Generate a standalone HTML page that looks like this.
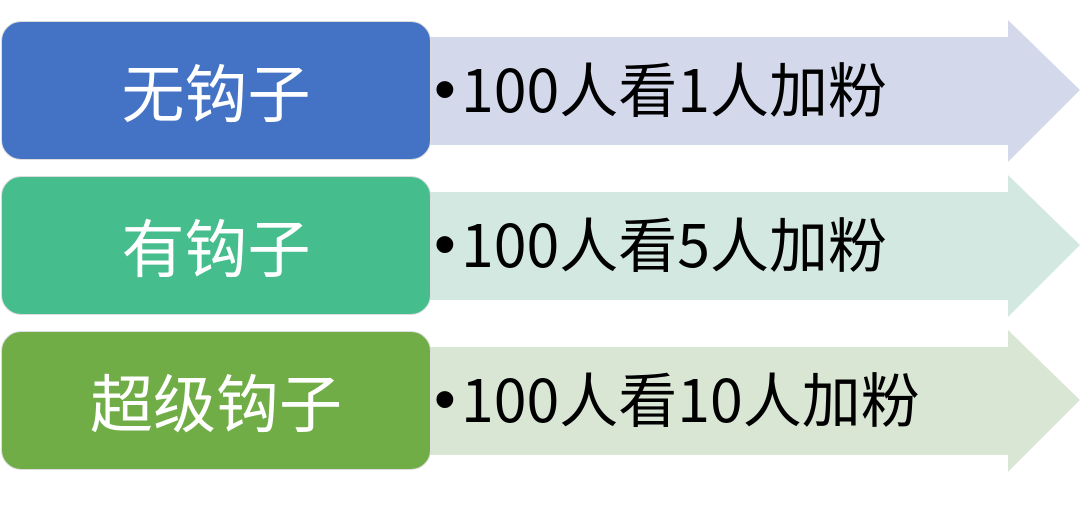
<!DOCTYPE html>
<html><head><meta charset="utf-8"><style>
body{margin:0;width:1080px;height:512px;background:#fff;position:relative;overflow:hidden;font-family:"Noto Sans CJK SC","Liberation Sans",sans-serif}
.box{position:absolute;left:1px;width:430px;height:139px;border-radius:20px;border:1px solid #ddd;box-sizing:border-box;color:#fff;font-size:63px;display:flex;align-items:center;justify-content:center;line-height:1}
.t{position:absolute;left:434px;font-size:59px;color:#000;line-height:1;white-space:nowrap}
.b{font-family:"Liberation Sans",sans-serif;font-size:62px;display:inline-block;width:27px;vertical-align:2px}
</style></head><body>
<svg width="1080" height="512" style="position:absolute;left:0;top:0">
<polygon points="420,37 1008,37 1008,20 1080,90 1008,162 1008,145 420,145" fill="#D3D8EB"/>
<polygon points="420,192 1008,192 1008,175 1080,245 1008,317 1008,300 420,300" fill="#D3E8E0"/>
<polygon points="420,347 1008,347 1008,330 1080,400 1008,472 1008,455 420,455" fill="#D9E6D4"/>
</svg>
<div class="box" style="top:21px;background:#4472C4">无钩子</div>
<div class="box" style="top:176px;background:#45BD8C">有钩子</div>
<div class="box" style="top:331px;background:#71AD47">超级钩子</div>
<div class="t" style="top:57px"><span class="b">•</span>100人看1人加粉</div>
<div class="t" style="top:212px"><span class="b">•</span>100人看5人加粉</div>
<div class="t" style="top:367px"><span class="b">•</span>100人看10人加粉</div>
</body></html>
